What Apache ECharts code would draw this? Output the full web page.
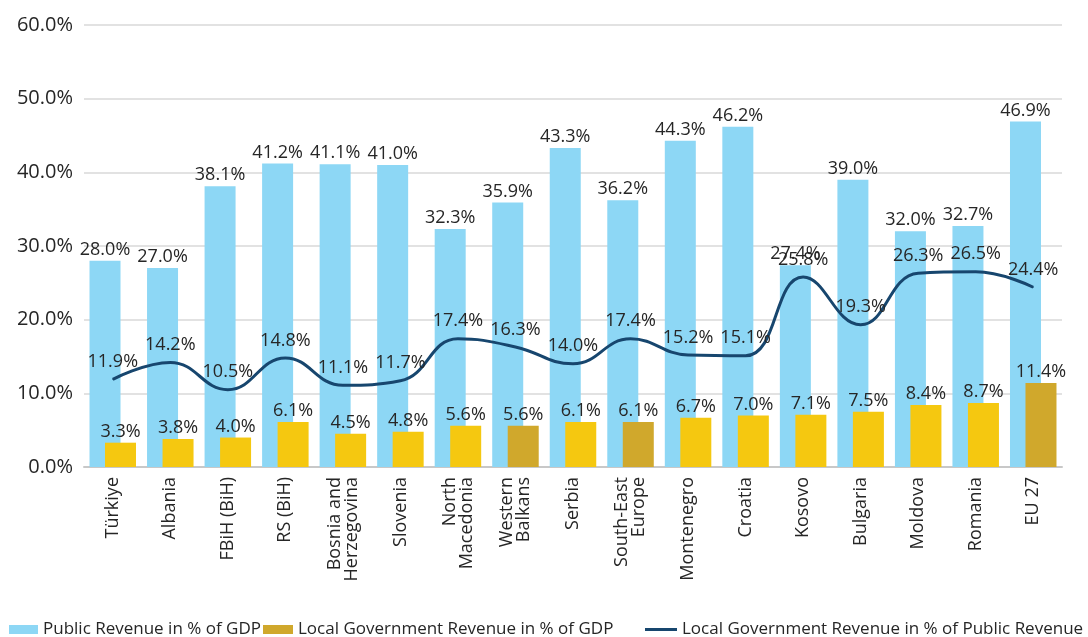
<!DOCTYPE html>
<html>
<head>
<meta charset="utf-8">
<script src="https://cdn.jsdelivr.net/npm/echarts@6/dist/echarts.min.js"></script>
<style>
  html, body { margin: 0; padding: 0; background: #fff; }
  #chart { width: 1088px; height: 637px; }
</style>
</head>
<body>
<div id="chart"></div>
<script>
// Categories (countries, entities and regional aggregates)
const categories = [
  'Türkiye', 'Albania', 'FBiH (BiH)', 'RS (BiH)', 'Bosnia and\nHerzegovina',
  'Slovenia', 'North\nMacedonia', 'Western\nBalkans', 'Serbia', 'South-East\nEurope',
  'Montenegro', 'Croatia', 'Kosovo', 'Bulgaria', 'Moldova', 'Romania', 'EU 27'
];
// Aggregates are drawn in a darker gold
const isAggregate = [
  false, false, false, false, false, false, false, true, false, true,
  false, false, false, false, false, false, true
];
// Public revenue, % of GDP
const publicRevenue = [28.0, 27.0, 38.1, 41.2, 41.1, 41.0, 32.3, 35.9, 43.3, 36.2, 44.3, 46.2, 27.4, 39.0, 32.0, 32.7, 46.9];
// Local government revenue, % of GDP
const localRevenueGdp = [3.3, 3.8, 4.0, 6.1, 4.5, 4.8, 5.6, 5.6, 6.1, 6.1, 6.7, 7.0, 7.1, 7.5, 8.4, 8.7, 11.4];
// Local government revenue, % of public revenue
const localRevenueShare = [11.9, 14.2, 10.5, 14.8, 11.1, 11.7, 17.4, 16.3, 14.0, 17.4, 15.2, 15.1, 25.8, 19.3, 26.3, 26.5, 24.4];

const seriesNames = [
  'Public Revenue in % of GDP',
  'Local Government Revenue in % of GDP',
  'Local Government Revenue in % of Public Revenue'
];

const FONT = '"Open Sans", sans-serif';
const TEXT = '#262626';
const BLUE = '#8DD7F5';
const YELLOW = '#F5C810';
const GOLD = '#D0A82C';
const NAVY = '#17466E';

const pct = v => Number(v).toFixed(1) + '%';
const valueLabel = {
  show: true, position: 'top', distance: 2,
  fontFamily: FONT, fontSize: 18, color: TEXT,
  formatter: p => pct(p.value)
};

const localData = localRevenueGdp.map((v, i) => ({
  value: v,
  itemStyle: { color: isAggregate[i] ? GOLD : YELLOW }
}));

const legendBase = {
  bottom: -1, padding: 0, itemGap: 0, icon: 'rect', itemHeight: 9,
  textStyle: { fontFamily: FONT, fontSize: 17, color: TEXT }
};

const chart = echarts.init(document.getElementById('chart'), null, { renderer: 'canvas' });
chart.setOption({
  animation: false,
  backgroundColor: '#fff',
  grid: { left: 84, right: 26, top: 25, bottom: 170, containLabel: false },
  legend: [
    Object.assign({}, legendBase, { left: 9, itemWidth: 29, data: [seriesNames[0]] }),
    Object.assign({}, legendBase, { left: 263, itemWidth: 30, data: [seriesNames[1]] }),
    Object.assign({}, legendBase, {
      left: 645, itemWidth: 32, itemHeight: 3,
      itemStyle: { color: NAVY },
      data: [seriesNames[2]]
    })
  ],
  xAxis: {
    type: 'category',
    data: categories,
    axisTick: { show: false },
    axisLine: { lineStyle: { color: '#C8C8C8', width: 2 } },
    axisLabel: {
      interval: 0, rotate: 90, margin: 10,
      fontFamily: FONT, fontSize: 18, lineHeight: 17, color: TEXT
    }
  },
  yAxis: {
    type: 'value',
    min: 0, max: 60, interval: 10,
    axisLine: { show: false },
    axisTick: { show: false },
    splitLine: { lineStyle: { color: '#D9D9D9', width: 1.5 } },
    axisLabel: {
      margin: 11, fontFamily: FONT, fontSize: 20, color: TEXT,
      formatter: v => v.toFixed(1) + '%'
    }
  },
  series: [
    {
      name: seriesNames[0],
      type: 'bar',
      data: publicRevenue,
      barWidth: 31,
      barGap: '-50%',
      itemStyle: { color: BLUE },
      label: valueLabel,
      z: 2
    },
    {
      name: seriesNames[1],
      type: 'bar',
      data: localData,
      barWidth: 31,
      barGap: '-50%',
      itemStyle: { color: GOLD },
      label: valueLabel,
      z: 3
    },
    {
      name: seriesNames[2],
      type: 'line',
      data: localRevenueShare,
      smooth: 0.45,
      symbol: 'circle',
      symbolSize: 1,
      showSymbol: true,
      lineStyle: { color: NAVY, width: 3 },
      itemStyle: { color: NAVY },
      label: Object.assign({}, valueLabel, { distance: 8 }),
      labelLayout: { hideOverlap: false },
      z: 4
    }
  ]
});
</script>
</body>
</html>
